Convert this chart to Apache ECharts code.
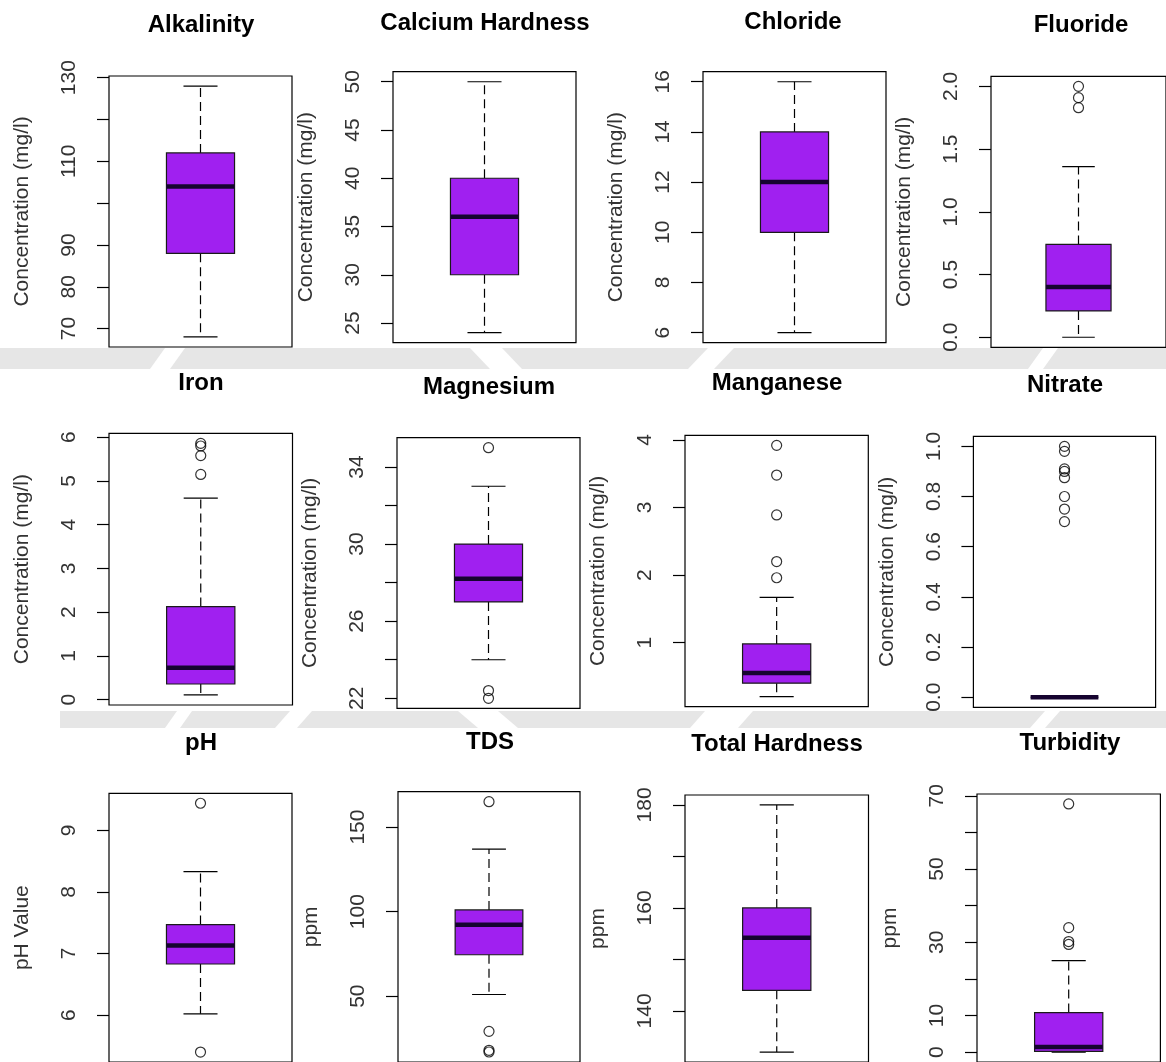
<!DOCTYPE html>
<html><head><meta charset="utf-8">
<script src="https://cdn.jsdelivr.net/npm/echarts@6/dist/echarts.min.js"></script>
<style>html,body{margin:0;padding:0;background:#fff}#c{width:1166px;height:1062px}</style>
</head><body><div id="c"></div>
<script>
// ---------------- DATA ----------------
const parameters = ['Alkalinity','Calcium Hardness','Chloride','Fluoride','Iron','Magnesium','Manganese','Nitrate','pH','TDS','Total Hardness','Turbidity'];
const yAxisNames = ['Concentration (mg/l)','Concentration (mg/l)','Concentration (mg/l)','Concentration (mg/l)',
                    'Concentration (mg/l)','Concentration (mg/l)','Concentration (mg/l)','Concentration (mg/l)',
                    'pH Value','ppm','ppm','ppm'];
// [lower whisker, Q1, median, Q3, upper whisker]
const alkalinityBox = [68, 88, 104, 112, 128];
const calciumBox    = [24, 30, 36, 40, 50];
const chlorideBox   = [6, 10, 12, 14, 16];
const fluorideBox   = [0, 0.21, 0.40, 0.74, 1.36];
const ironBox       = [0.11, 0.36, 0.73, 2.13, 4.61];
const magnesiumBox  = [24, 27, 28.2, 30, 33];
const manganeseBox  = [0.2, 0.40, 0.55, 0.98, 1.67];
const nitrateBox    = [0, 0, 0, 0, 0];
const phBox         = [6.02, 6.83, 7.13, 7.47, 8.33];
const tdsBox        = [51, 74.5, 92.2, 101, 137];
const totalHardBox  = [132, 144, 154.2, 160, 180];
const turbidityBox  = [0, 0.2, 1.4, 10.8, 25];
const boxStats = [alkalinityBox, calciumBox, chlorideBox, fluorideBox, ironBox, magnesiumBox,
                  manganeseBox, nitrateBox, phBox, tdsBox, totalHardBox, turbidityBox];

const alkalinityOut = [];
const calciumOut    = [];
const chlorideOut   = [];
const fluorideOut   = [1.83, 1.91, 2.0];
const ironOut       = [5.15, 5.58, 5.8, 5.86];
const magnesiumOut  = [22.0, 22.4, 35];
const manganeseOut  = [1.96, 2.2, 2.89, 3.48, 3.92];
const nitrateOut    = [0.70, 0.75, 0.80, 0.875, 0.90, 0.91, 0.98, 1.0];
const phOut         = [5.4, 9.44];
const tdsOut        = [17, 18, 29.2, 165];
const totalHardOut  = [];
const turbidityOut  = [29.4, 30.2, 34, 67.8];
const outliers = [alkalinityOut, calciumOut, chlorideOut, fluorideOut, ironOut, magnesiumOut,
                  manganeseOut, nitrateOut, phOut, tdsOut, totalHardOut, turbidityOut];

// tick marks and tick labels per panel
const tickValues = [
  [70,80,90,100,110,120,130], [25,30,35,40,45,50], [6,8,10,12,14,16], [0,0.5,1,1.5,2],
  [0,1,2,3,4,5,6], [22,24,26,28,30,32,34], [1,2,3,4], [0,0.2,0.4,0.6,0.8,1.0],
  [6,7,8,9], [50,100,150], [140,150,160,170,180], [0,10,20,30,40,50,60,70]
];
const tickLabels = [
  [70,80,90,110,130], [25,30,35,40,45,50], [6,8,10,12,14,16], [0,0.5,1,1.5,2],
  [0,1,2,3,4,5,6], [22,26,30,34], [1,2,3,4], [0,0.2,0.4,0.6,0.8,1.0],
  [6,7,8,9], [50,100,150], [140,160,180], [0,10,30,50,70]
];
const labelDecimals = [0,0,0,1, 0,0,0,1, 0,0,0,0];

// ---------------- LAYOUT ----------------
const FONT = '"Liberation Sans", Arial, Helvetica, sans-serif';
// [left, top, width, height, titleX, titleY]
const layout = [
  [109, 76, 183, 271, 201, 25],
  [393, 71.7, 183, 271, 485, 23],
  [703, 71.7, 183, 271, 793, 22.5],
  [991, 76.3, 183, 271, 1081, 25.5],
  [109, 433.3, 183.5, 271.7, 201, 383],
  [397, 437.7, 183, 270.6, 489, 387],
  [685, 435.3, 183.3, 271.4, 777, 383.5],
  [973.4, 436.3, 182.2, 271, 1065, 385],
  [109, 793.3, 183, 270, 201, 743],
  [398, 791.7, 182, 271, 490, 742.5],
  [685, 795, 183.5, 271, 777, 744.5],
  [977, 794, 183.4, 271, 1070, 743.3]
];

function renderBox(params, api) {
  const mn = api.value(1), q1 = api.value(2), md = api.value(3), q3 = api.value(4), mx = api.value(5);
  const cx = api.coord([1, md])[0];
  const bw = api.size([0.372, 0])[0] / 2;
  const cw = bw * 0.5;
  const y = v => api.coord([1, v])[1];
  const dash = {stroke:'#000', lineWidth:1.2, lineDash:[9,5]};
  const solid = {stroke:'#000', lineWidth:1.2};
  return {type:'group', children:[
    {type:'line', shape:{x1:cx, y1:y(q3), x2:cx, y2:y(mx)}, style:dash},
    {type:'line', shape:{x1:cx, y1:y(q1), x2:cx, y2:y(mn)}, style:dash},
    {type:'line', shape:{x1:cx-cw, y1:y(mx), x2:cx+cw, y2:y(mx)}, style:solid},
    {type:'line', shape:{x1:cx-cw, y1:y(mn), x2:cx+cw, y2:y(mn)}, style:solid},
    {type:'rect', shape:{x:cx-bw, y:y(q3), width:2*bw, height:y(q1)-y(q3)},
      style:{fill:'#A020F0', stroke:'#1a1a1a', lineWidth:1.2}},
    {type:'line', shape:{x1:cx-bw, y1:y(md), x2:cx+bw, y2:y(md)}, style:{stroke:'#160430', lineWidth:4.5}}
  ]};
}

const grids = [], xAxes = [], yAxes = [], series = [], graphics = [];

// faint watermark bands between rows
function wedge(x, yt, yb, w, s) {
  return {type:'polygon', z:-5, silent:true,
    shape:{points:[[x, yb],[x+w, yb],[x+w+s, yt],[x+s, yt]]}, style:{fill:'#fff'}};
}
graphics.push({type:'rect', z:-6, silent:true, shape:{x:0, y:348, width:1166, height:21}, style:{fill:'#e6e6e6'}});
[[150,20,15],[490,32,-20],[688,26,20],[1028,15,15]].forEach(p => graphics.push(wedge(p[0], 348, 369, p[1], p[2])));
graphics.push({type:'rect', z:-6, silent:true, shape:{x:60, y:711, width:1106, height:17}, style:{fill:'#e6e6e6'}});
[[165,15,12],[275,22,15],[478,40,-20],[690,48,15],[1030,15,15]].forEach(p => graphics.push(wedge(p[0], 711, 728, p[1], p[2])));

parameters.forEach((name, i) => {
  const [left, top, width, height, tx, ty] = layout[i];
  const all = boxStats[i].concat(outliers[i]);
  const lo = Math.min(...all), hi = Math.max(...all), ext = (hi - lo) * 0.04;
  const dec = labelDecimals[i];
  grids.push({left, top, width, height, show:true, borderColor:'#000', borderWidth:1.2, backgroundColor:'#fff'});
  xAxes.push({gridIndex:i, type:'value', min:0.5, max:1.5, show:false});
  yAxes.push({
    gridIndex:i, type:'value', min:lo-ext, max:hi+ext,
    name:yAxisNames[i], nameLocation:'middle', nameGap:76, nameRotate:90,
    nameTextStyle:{fontSize:21, color:'#333', fontFamily:FONT},
    axisLine:{show:false}, splitLine:{show:false},
    axisTick:{show:true, length:12, lineStyle:{color:'#000', width:1.2}, customValues:tickValues[i]},
    axisLabel:{rotate:90, margin:29, fontSize:21, color:'#333', fontFamily:FONT,
      customValues:tickLabels[i], formatter:v => Number(v).toFixed(dec)}
  });
  series.push({type:'custom', xAxisIndex:i, yAxisIndex:i, data:[[1].concat(boxStats[i])],
    renderItem:renderBox, z:3, silent:true, clip:false});
  if (outliers[i].length) {
    series.push({type:'scatter', xAxisIndex:i, yAxisIndex:i, data:outliers[i].map(v => [1, v]),
      symbol:'circle', symbolSize:10, z:4, silent:true,
      itemStyle:{color:'rgba(0,0,0,0)', borderColor:'#000', borderWidth:1.2}});
  }
  graphics.push({type:'text', x:tx, y:ty, z:10,
    style:{text:name, font:'bold 24px ' + FONT, fill:'#000', align:'center', verticalAlign:'middle'}});
});

const chart = echarts.init(document.getElementById('c'), null, {renderer:'canvas'});
chart.setOption({
  animation:false,
  backgroundColor:'#fff',
  grid:grids, xAxis:xAxes, yAxis:yAxes, series:series,
  graphic:{elements:graphics}
});
</script></body></html>
